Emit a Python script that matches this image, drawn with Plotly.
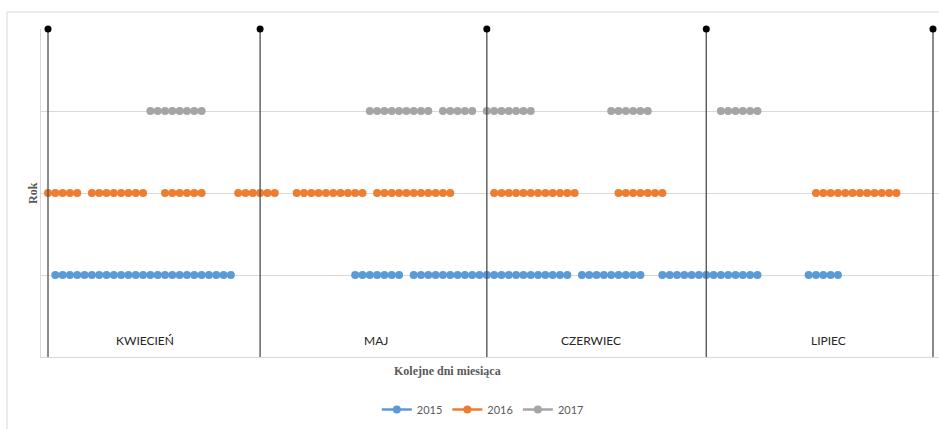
import plotly.graph_objects as go

# Day index: 1 = 1 April ... 122 = 31 July
days_2015 = [2, 3, 4, 5, 6, 7, 8, 9, 10, 11, 12, 13, 14, 15, 16, 17, 18, 19, 20, 21, 22, 23, 24, 25, 26,
             43, 44, 45, 46, 47, 48, 49,
             51, 52, 53, 54, 55, 56, 57, 58, 59, 60, 61, 62, 63, 64, 65, 66, 67, 68, 69, 70, 71, 72,
             74, 75, 76, 77, 78, 79, 80, 81, 82,
             85, 86, 87, 88, 89, 90, 91, 92, 93, 94, 95, 96, 97, 98,
             105, 106, 107, 108, 109]
days_2016 = [1, 2, 3, 4, 5,
             7, 8, 9, 10, 11, 12, 13, 14,
             17, 18, 19, 20, 21, 22,
             27, 28, 29, 30, 31, 32,
             35, 36, 37, 38, 39, 40, 41, 42, 43, 44,
             46, 47, 48, 49, 50, 51, 52, 53, 54, 55, 56,
             62, 63, 64, 65, 66, 67, 68, 69, 70, 71, 72, 73,
             79, 80, 81, 82, 83, 84, 85,
             106, 107, 108, 109, 110, 111, 112, 113, 114, 115, 116, 117]
days_2017 = [15, 16, 17, 18, 19, 20, 21, 22,
             45, 46, 47, 48, 49, 50, 51, 52, 53,
             55, 56, 57, 58, 59,
             61, 62, 63, 64, 65, 66, 67,
             78, 79, 80, 81, 82, 83,
             93, 94, 95, 96, 97, 98]

series_names = ["2015", "2016", "2017"]
series_levels = [1, 2, 3]
series_days = [days_2015, days_2016, days_2017]
series_colors = ["#5B9BD5", "#ED7D31", "#A5A5A5"]

month_boundaries = [1, 30, 61, 91, 122]
month_labels = ["KWIECIEŃ", "MAJ", "CZERWIEC", "LIPIEC"]
month_label_x = [14.3, 45.9, 75.3, 107.7]
y_top = 4


def broken(days, level):
    xs, ys = [], []
    prev = None
    for d in days:
        if prev is not None and d - prev > 1:
            xs.append(None)
            ys.append(None)
        xs.append(d)
        ys.append(level)
        prev = d
    return xs, ys


fig = go.Figure()
for name, lvl, days, col in zip(series_names, series_levels, series_days, series_colors):
    xs, ys = broken(days, lvl)
    fig.add_trace(go.Scatter(
        x=xs, y=ys, name=name, mode="lines+markers",
        line=dict(color=col, width=2.5),
        marker=dict(color=col, size=8),
        connectgaps=False, cliponaxis=False,
    ))

vx, vy = [], []
for b in month_boundaries:
    vx += [b, b, None]
    vy += [0, y_top, None]
fig.add_trace(go.Scatter(x=vx, y=vy, mode="lines", line=dict(color="#4d4d4d", width=1.3),
                         showlegend=False, hoverinfo="skip"))
fig.add_trace(go.Scatter(x=month_boundaries, y=[y_top] * len(month_boundaries), mode="markers",
                         marker=dict(color="black", size=7), showlegend=False,
                         cliponaxis=False, hoverinfo="skip"))

for lab, lx in zip(month_labels, month_label_x):
    fig.add_annotation(x=lx, y=0.207, text=lab, showarrow=False, xref="x", yref="y",
                       xanchor="center", yanchor="middle",
                       font=dict(family="Lato", size=12, color="#262626"))

fig.add_annotation(x=(447 - 41) / 898, y=(357 - 371) / 328, xref="paper", yref="paper",
                   xanchor="center", yanchor="middle",
                   text="<b>Kolejne dni miesiąca</b>", showarrow=False,
                   font=dict(family="Liberation Serif", size=12, color="#595959"))
fig.add_annotation(x=(33 - 41) / 898, y=0.5, xref="paper", yref="paper",
                   xanchor="center", yanchor="middle",
                   text="<b>Rok</b>", showarrow=False, textangle=-90,
                   font=dict(family="Liberation Serif", size=12, color="#595959"))

fig.add_shape(type="rect", xref="paper", yref="paper",
              x0=(7 - 41) / 898, x1=1.2, y0=-0.4, y1=(357 - 12) / 328,
              line=dict(color="#d9d9d9", width=1), layer="below")

fig.update_layout(
    width=939, height=429,
    margin=dict(l=41, r=0, t=29, b=72),
    paper_bgcolor="white", plot_bgcolor="white",
    showlegend=True,
    hovermode=False,
    legend=dict(orientation="h", x=0.492, xanchor="center", y=-0.16, yanchor="middle",
                font=dict(family="Lato", size=11, color="#595959"),
                itemwidth=30, traceorder="normal"),
    xaxis=dict(range=[0.043, 122.82], showgrid=False, showticklabels=False, zeroline=False,
               showline=True, linecolor="#d9d9d9", ticks=""),
    yaxis=dict(range=[0, 4], tickvals=[1, 2, 3, 4], showticklabels=False, showgrid=True,
               gridcolor="#d9d9d9", zeroline=False, showline=True, linecolor="#d9d9d9", ticks=""),
)

fig.write_html("out.html", config={"displayModeBar": False},
               post_script="document.body.style.margin='0';document.body.style.overflow='hidden';")
